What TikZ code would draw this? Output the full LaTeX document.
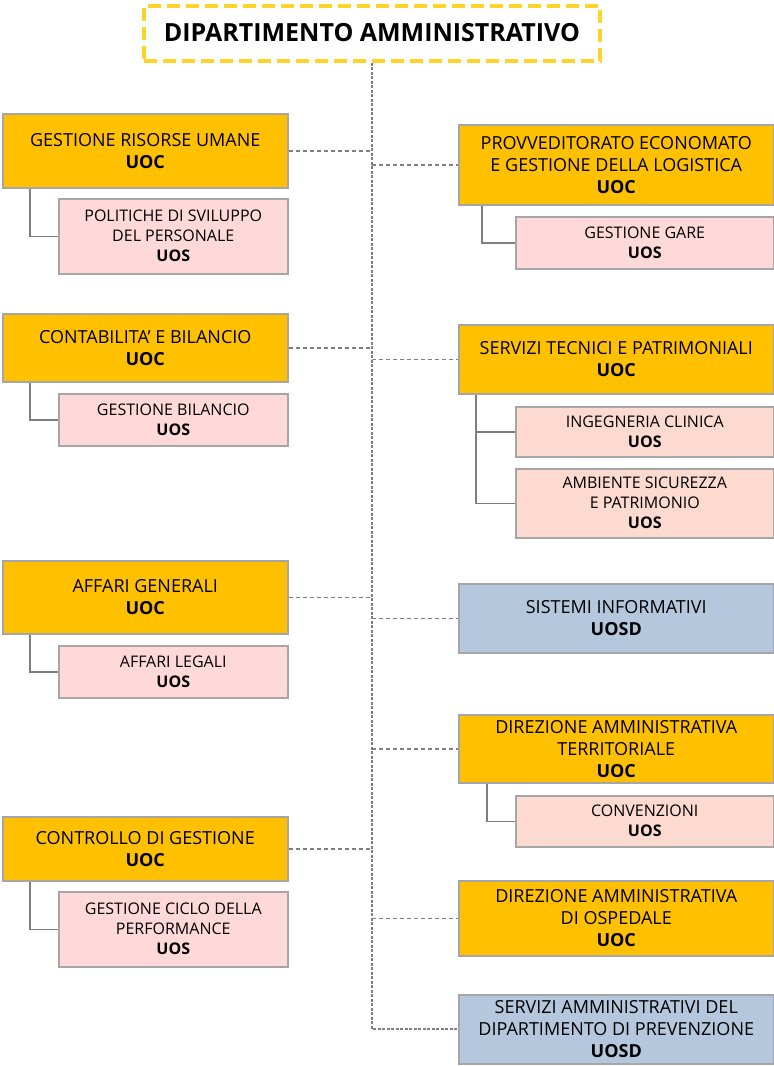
\documentclass[tikz,border=0pt]{standalone}
\usepackage{fontspec}
\setmainfont{Open Sans}
\usetikzlibrary{positioning}

\definecolor{uocgold}{HTML}{FFC000}
\definecolor{uospink}{HTML}{FFD9D9}
\definecolor{uospeach}{HTML}{FCDACF}
\definecolor{uosdblue}{HTML}{B4C7DC}
\definecolor{boxgray}{HTML}{A6A6A6}
\definecolor{linegray}{HTML}{7F7F7F}
\definecolor{titleyellow}{HTML}{FFD42A}

\begin{document}
\begin{tikzpicture}[x = 1pt, y = -1pt,
    box/.style = {draw = boxgray, line width = 1.5pt, inner sep = 0pt, align = center, anchor = north west},
    uoc/.style = {box, fill = uocgold, font = \fontsize{18}{22}\selectfont},
    uosd/.style = {box, fill = uosdblue, font = \fontsize{18}{22}\selectfont},
    uos/.style = {box, fill = uospink, font = \fontsize{16}{20}\selectfont},
    uosp/.style = {uos, fill = uospeach},
    left uoc/.style = {minimum width = 285pt},
    left uos/.style = {minimum width = 229pt},
    right uoc/.style = {minimum width = 315pt},
    right uos/.style = {minimum width = 258pt},
    link/.style = {draw = linegray, line width = 1.5pt, dash pattern = on 4pt off 3pt},
    trunk/.style = {draw = linegray, line width = 2.2pt, dash pattern = on 3pt off 1.5pt},
    branch/.style = {draw = linegray, line width = 1.5pt}]
    \useasboundingbox (0,0) rectangle (774,1066);

    % title
    \node[draw = titleyellow, line width = 4pt, dash pattern = on 13pt off 6pt, inner sep = 0pt,
          minimum width = 456pt, minimum height = 55pt, font = \bfseries\fontsize{25}{30}\selectfont]
          (dip) at (372,33) {DIPARTIMENTO AMMINISTRATIVO};

    % left column
    \node[uoc, left uoc, minimum height = 74pt]     (gru)  at (2,113)   {GESTIONE RISORSE UMANE\\\textbf{UOC}};
    \node[uos, left uos, minimum height = 75pt]     (pol)  at (58,198)  {POLITICHE DI SVILUPPO\\DEL PERSONALE\\\textbf{UOS}};
    \node[uoc, left uoc, minimum height = 68pt]     (cont) at (2,313)   {CONTABILITA’ E BILANCIO\\\textbf{UOC}};
    \node[uos, left uos, minimum height = 52pt]     (bil)  at (58,393)  {GESTIONE BILANCIO\\\textbf{UOS}};
    \node[uoc, left uoc, minimum height = 73pt]     (aff)  at (2,560)   {AFFARI GENERALI\\\textbf{UOC}};
    \node[uos, left uos, minimum height = 52pt]     (leg)  at (58,645)  {AFFARI LEGALI\\\textbf{UOS}};
    \node[uoc, left uoc, minimum height = 64pt]     (ctrl) at (2,816)   {CONTROLLO DI GESTIONE\\\textbf{UOC}};
    \node[uos, left uos, minimum height = 75pt]     (cic)  at (58,891)  {GESTIONE CICLO DELLA\\PERFORMANCE\\\textbf{UOS}};

    % right column
    \node[uoc, right uoc, minimum height = 80pt]    (prov) at (458,124) {PROVVEDITORATO ECONOMATO\\E GESTIONE DELLA LOGISTICA\\\textbf{UOC}};
    \node[uos, right uos, minimum height = 52pt]    (gare) at (515,216) {GESTIONE GARE\\\textbf{UOS}};
    \node[uoc, right uoc, minimum height = 69pt]    (tec)  at (458,324) {SERVIZI TECNICI E PATRIMONIALI\\\textbf{UOC}};
    \node[uosp, right uos, minimum height = 50pt]   (ing)  at (515,406) {INGEGNERIA CLINICA\\\textbf{UOS}};
    \node[uosp, right uos, minimum height = 69pt]   (amb)  at (515,468) {AMBIENTE SICUREZZA\\E PATRIMONIO\\\textbf{UOS}};
    \node[uosd, right uoc, minimum height = 69pt]   (inf)  at (458,583) {SISTEMI INFORMATIVI\\\textbf{UOSD}};
    \node[uoc, right uoc, minimum height = 68pt]    (terr) at (458,714) {DIREZIONE AMMINISTRATIVA\\TERRITORIALE\\\textbf{UOC}};
    \node[uosp, right uos, minimum height = 51pt]   (conv) at (515,795) {CONVENZIONI\\\textbf{UOS}};
    \node[uoc, right uoc, minimum height = 75pt]    (osp)  at (458,880) {DIREZIONE AMMINISTRATIVA\\DI OSPEDALE\\\textbf{UOC}};
    \node[uosd, right uoc, minimum height = 69pt]   (prev) at (458,994) {SERVIZI AMMINISTRATIVI DEL\\DIPARTIMENTO DI PREVENZIONE\\\textbf{UOSD}};

    % trunk and links
    \coordinate (end) at (372,1029);
    \draw[trunk] (dip.south) -- (end) -- (end -| prev.west);
    \foreach \n in {gru, cont, aff, ctrl}
        \draw[link] (\n.east) -- (\n.east -| end);
    \foreach \n in {prov, tec, inf, terr, osp}
        \draw[link] (\n.west -| end) -- (\n.west);

    % branches
    \draw[branch] ([xshift = 28pt]gru.south west)  |- (pol.west);
    \draw[branch] ([xshift = 28pt]cont.south west) |- (bil.west);
    \draw[branch] ([xshift = 28pt]aff.south west)  |- (leg.west);
    \draw[branch] ([xshift = 28pt]ctrl.south west) |- (cic.west);
    \draw[branch] ([xshift = 24pt]prov.south west) |- (gare.west);
    \draw[branch] ([xshift = 18pt]tec.south west)  |- (ing.west);
    \draw[branch] ([xshift = 18pt]tec.south west)  |- (amb.west);
    \draw[branch] ([xshift = 29pt]terr.south west) |- (conv.west);
\end{tikzpicture}
\end{document}
